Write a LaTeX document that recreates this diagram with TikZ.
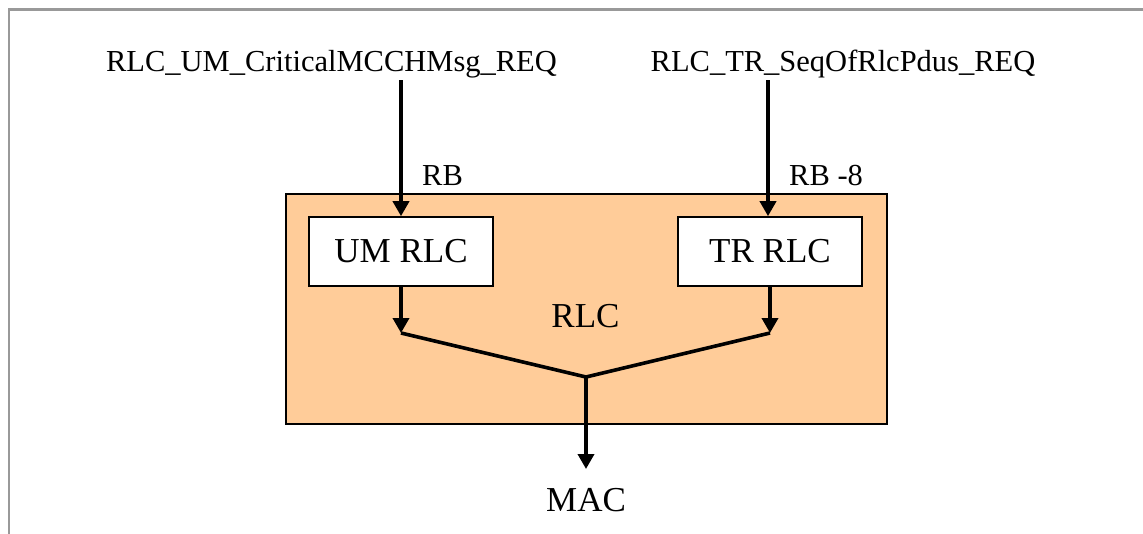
\documentclass[tikz,border=0pt]{standalone}
\usepackage{fontspec}
\setmainfont{Liberation Serif}
\usetikzlibrary{arrows.meta}
\definecolor{rlcfill}{HTML}{FFCC99}
\definecolor{framegray}{HTML}{999999}
\begin{document}
\begin{tikzpicture}[x=1pt,y=-1pt,
  lbl/.style={inner sep=0pt,anchor=base,font=\fontsize{30.5}{34}\selectfont},
  big/.style={inner sep=0pt,font=\fontsize{35}{40}\selectfont},
  sub/.style={draw=black,line width=1.6pt,fill=white,minimum width=184pt,minimum height=69pt,inner sep=0pt,font=\fontsize{35}{40}\selectfont},
  flow/.style={line width=3.6pt,-{Triangle[length=15pt,width=16pt]}},
  mergeline/.style={line width=3.6pt}]
\useasboundingbox (0,0) rectangle (1143,533);
\draw[framegray,line width=2.5pt] (9,540) -- (9,9.5) -- (1150,9.5);
\node[draw=black,line width=1.4pt,fill=rlcfill,minimum width=601pt,minimum height=230pt,inner sep=0pt] (rlcbox) at (586.5,309) {};
\node[lbl] (top1) at (331.5,71) {RLC\_UM\_CriticalMCCHMsg\_REQ};
\node[lbl] (top2) at (843,71) {RLC\_TR\_SeqOfRlcPdus\_REQ};
\node[sub] (um) at (401,251.5) {UM RLC};
\node[sub] (tr) at (770,251.5) {TR RLC};
\node[lbl,anchor=base west] (rb1) at (422,185) {RB};
\node[lbl,anchor=base west] (rb2) at (789,185) {RB -8};
\node[big,anchor=base] (rlclbl) at (585.5,327) {RLC};
\node[big,anchor=base] (mac) at (586,511) {MAC};
\coordinate (s1) at (401,80);
\coordinate (s2) at (768,80);
\coordinate (j1) at (401,333);
\coordinate (j2) at (770,333);
\coordinate (m) at (586,377);
\coordinate (macin) at (586,469);
\draw[flow] (s1) -- (um.north);
\draw[flow] (s2) -- (s2 |- tr.north);
\draw[flow] (um.south) -- (j1);
\draw[flow] (tr.south) -- (j2);
\draw[mergeline,line join=miter] (j1) -- (m) -- (j2);
\draw[flow] (m) -- (macin);
\end{tikzpicture}
\end{document}
